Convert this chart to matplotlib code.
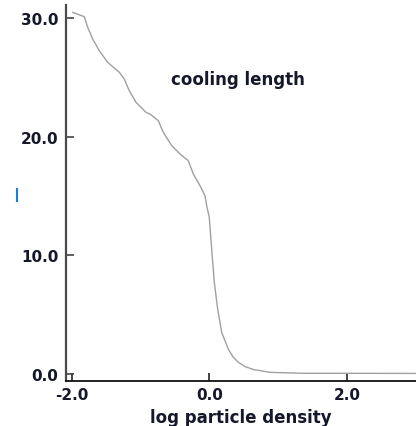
import numpy as np
import matplotlib.pyplot as plt
from matplotlib.lines import Line2D

# ---- data: cooling length vs. log particle density ----
log_density = [-1.990, -1.821, -1.772, -1.699, -1.603, -1.481, -1.312, -1.239,
               -1.167, -1.069, -0.924, -0.865, -0.745, -0.672, -0.550, -0.429,
               -0.308, -0.236, -0.138, -0.065, -0.041, -0.003, 0.032, 0.070,
               0.119, 0.177, 0.273, 0.340, 0.419, 0.520, 0.637, 0.880, 1.364,
               1.850, 3.0]
cooling_length = [30.52, 30.15, 29.26, 28.27, 27.28, 26.30, 25.46, 24.89,
                  23.91, 22.93, 22.08, 21.94, 21.38, 20.40, 19.27, 18.57,
                  18.00, 16.88, 15.89, 15.05, 14.20, 13.22, 10.55, 7.74,
                  5.49, 3.52, 2.11, 1.45, 0.99, 0.62, 0.38, 0.14, 0.06,
                  0.06, 0.05]

x_ticks = [-2.0, 0.0, 2.0]
y_ticks = [0.0, 10.0, 20.0, 30.0]

plt.rcParams["font.family"] = ["DejaVu Sans"]
TEXT_COLOR = "#15172b"
TICK_FS = 11
LABEL_FS = 12

fig = plt.figure(figsize=(4.16, 4.27), dpi=100)
ax = fig.add_axes([0.1587, 0.1054, 0.8413, 0.8806])

ax.plot(log_density, cooling_length, "-", color="#a0a0a0", linewidth=1.0)

ax.set_xlim(-2.087, 3.004)
ax.set_ylim(-0.59, 31.14)

ax.set_xticks(x_ticks)
ax.set_xticklabels([f"{v:.1f}" for v in x_ticks])
ax.set_yticks(y_ticks)
ax.set_yticklabels([f"{v:.1f}" for v in y_ticks])

for lbl in ax.get_xticklabels() + ax.get_yticklabels():
    lbl.set_fontweight("bold")
    lbl.set_fontsize(TICK_FS)
    lbl.set_color(TEXT_COLOR)

ax.tick_params(axis="y", direction="in", length=6, width=1.2,
               color="#444444", pad=5.5)
ax.tick_params(axis="x", direction="in", length=6, width=1.2,
               color="#222222", pad=4.5)

ax.spines["top"].set_visible(False)
ax.spines["right"].set_visible(False)
ax.spines["left"].set_color("#4a4a4a")
ax.spines["left"].set_linewidth(1.6)
ax.spines["bottom"].set_color("#111111")
ax.spines["bottom"].set_linewidth(1.3)

ax.set_xlabel("log particle density", fontsize=LABEL_FS, fontweight="bold",
              color=TEXT_COLOR, labelpad=4)

ax.text(0.415, 24.9, "cooling length", fontsize=LABEL_FS, fontweight="bold",
        color=TEXT_COLOR, ha="center", va="center")

# small blue stroke at the left margin
fig.add_artist(Line2D([16.7 / 416, 16.7 / 416], [1 - 190 / 427, 1 - 202 / 427],
                      color="#1a7fd8", linewidth=1.5))

fig.savefig("out.png", dpi=100)
